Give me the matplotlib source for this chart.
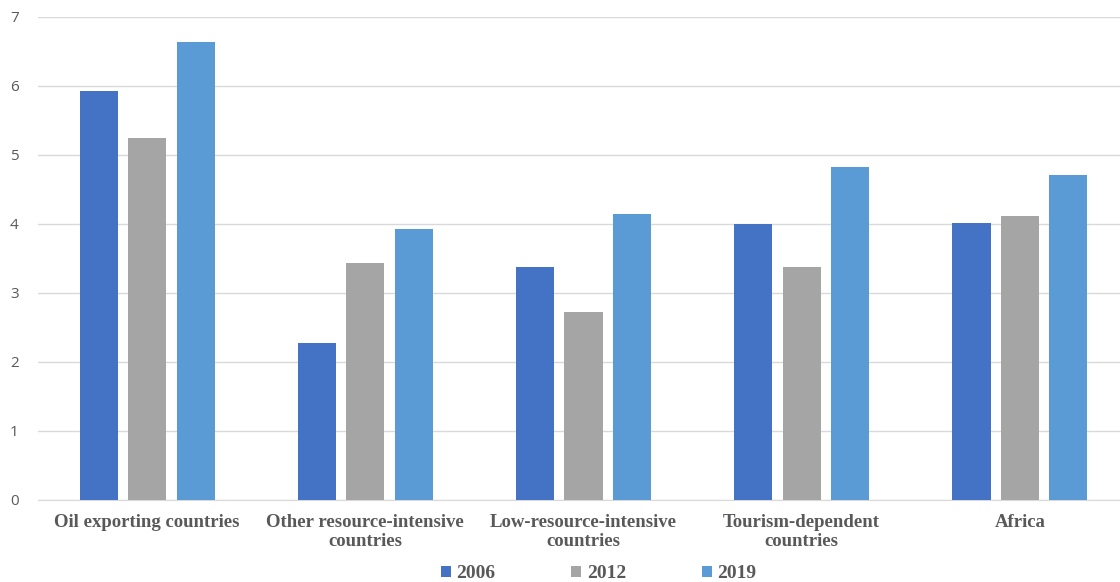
import matplotlib
matplotlib.use("Agg")
from matplotlib import pyplot as plt
import numpy as np

categories = ["Oil exporting countries", "Other resource-intensive\ncountries",
              "Low-resource-intensive\ncountries", "Tourism-dependent\ncountries", "Africa"]
years = ["2006", "2012", "2019"]
vals_2006 = [5.93, 2.27, 3.38, 4.00, 4.02]
vals_2012 = [5.25, 3.44, 2.73, 3.38, 4.12]
vals_2019 = [6.63, 3.92, 4.14, 4.83, 4.71]
colors = ["#4472C4", "#A5A5A5", "#5B9BD5"]

fig = plt.figure(figsize=(11.2, 5.82), dpi=100)
ax = fig.add_axes([0.034, 0.141, 0.974, 0.83])

x = np.arange(len(categories))
width = 0.175
step = 0.222
for i, (vals, yr) in enumerate(zip([vals_2006, vals_2012, vals_2019], years)):
    ax.bar(x + (i - 1) * step, vals, width, color=colors[i], label=yr, zorder=3)

ax.set_xlim(-0.5, len(categories) - 0.5)
ax.set_ylim(0, 7)
ax.set_yticks(range(0, 8))
ax.yaxis.grid(True, color="#D9D9D9", linewidth=1, zorder=0)
for s in ["top", "right", "left"]:
    ax.spines[s].set_visible(False)
ax.spines["bottom"].set_color("#D9D9D9")
ax.tick_params(axis="both", length=0)
ax.tick_params(axis="y", labelsize=11, labelcolor="#595959", pad=14)
for t in ax.get_yticklabels():
    t.set_family("Open Sans")

ax.set_xticks(x)
ax.set_xticklabels(categories, family="Liberation Serif", fontweight="bold",
                   fontsize=13.5, color="#595959", linespacing=1.15)
ax.tick_params(axis="x", pad=10)

leg = ax.legend(loc="center", bbox_to_anchor=(0.514, -0.153), ncol=3, frameon=False,
                prop={"family": "Liberation Serif", "weight": "bold", "size": 14},
                handlelength=0.5, handleheight=0.5, handletextpad=0.3, columnspacing=3.9,
                borderpad=0.1)
for t in leg.get_texts():
    t.set_color("#595959")

fig.savefig("out.png", dpi=100)
